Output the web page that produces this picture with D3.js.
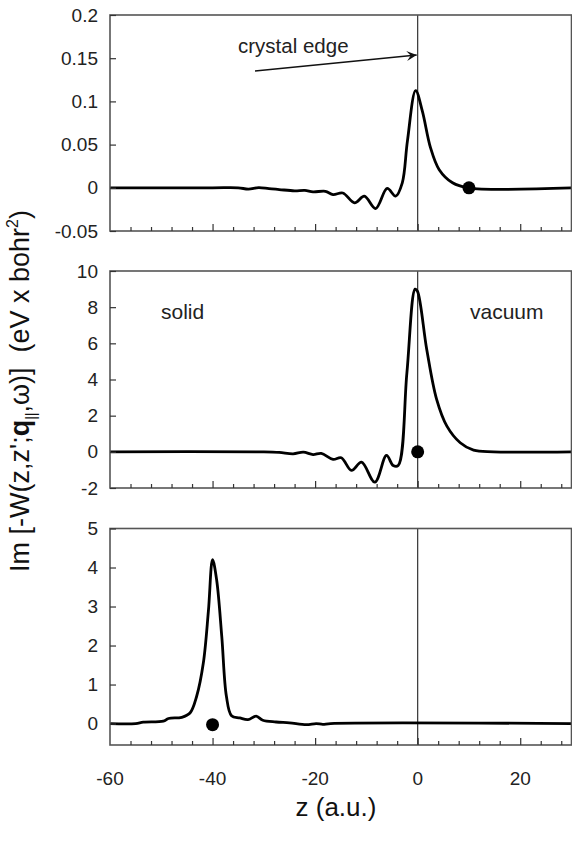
<!DOCTYPE html>
<html>
<head>
<meta charset="utf-8">
<script src="https://cdn.jsdelivr.net/npm/d3@7"></script>
<style>
  html, body { margin: 0; padding: 0; background: #fff; }
  svg { display: block; font-family: "Liberation Sans", Arial, Helvetica, sans-serif; }
</style>
</head>
<body>
<svg id="chart" width="572" height="846"></svg>
<script>
// ---------------- data ----------------
const xDomain = [-60, 30];
const xMajorTicks = [-60, -40, -20, 0, 20];
const xTickLabels = ["-60", "-40", "-20", "0", "20"];

// panel 1 (top)
const topZ   = [-60, -40, -35, -33, -31, -29, -27, -24, -22, -20.4, -18, -16.5, -14.6, -12.3, -10.4, -8.2, -5.95, -4.3, -3.0, -2.0, -0.4, 0.9, 2.5, 4.2, 6.8, 9.8, 30];
const topVal = [0, 0, 0, -0.0015, 0.0003, -0.001, -0.002, -0.0035, -0.003, -0.0047, -0.004, -0.0078, -0.006, -0.0174, -0.0097, -0.024, -0.0008, -0.0097, 0.0058, 0.054, 0.1124, 0.089, 0.0465, 0.021, 0.0058, 0, 0];
const topYDomain = [-0.05, 0.2];
const topYTicks = [-0.05, 0, 0.05, 0.1, 0.15, 0.2];
const topYLabels = ["-0.05", "0", "0.05", "0.1", "0.15", "0.2"];
const topDotZ = 10, topDotVal = 0;

// panel 2 (middle)
const midZ   = [-60, -30, -27, -24.3, -22.3, -20.4, -18.8, -16.5, -14.9, -12.9, -10.96, -8.35, -6.08, -4.78, -3.8, -2.1, -0.5, -0.04, 1.77, 3.7, 5.7, 8.3, 10.9, 14.8, 30];
const midVal = [0, 0, -0.03, -0.11, -0.02, -0.15, -0.09, -0.42, -0.33, -1.03, -0.57, -1.68, -0.2, -0.76, -0.76, 4.37, 9.0, 8.88, 5.66, 2.9, 1.42, 0.5, 0.09, 0, 0];
const midYDomain = [-2, 10];
const midYTicks = [-2, 0, 2, 4, 6, 8, 10];
const midYLabels = ["-2", "0", "2", "4", "6", "8", "10"];
const midDotZ = 0, midDotVal = 0;

// panel 3 (bottom)
const botZ   = [-60, -55, -53.5, -49.6, -48.6, -46.0, -44.4, -43.1, -41.8, -40.8, -40.0, -39.2, -38.2, -37.3, -36.3, -34.7, -33.1, -31.5, -30.2, -27.6, -25, -21.7, -19.8, -18.5, -17, 30];
const botVal = [0, 0, 0.034, 0.06, 0.13, 0.16, 0.27, 0.70, 1.55, 2.9, 4.2, 3.68, 2.23, 0.7, 0.2, 0.145, 0.10, 0.19, 0.085, 0.04, 0.017, -0.03, 0, -0.02, 0, 0];
const botYDomain = [-0.55, 5];
const botYTicks = [0, 1, 2, 3, 4, 5];
const botYLabels = ["0", "1", "2", "3", "4", "5"];
const botDotZ = -40, botDotVal = -0.03;

// ---------------- layout ----------------
const svg = d3.select("#chart");
const left = 110, right = 571.5;
const x = d3.scaleLinear().domain(xDomain).range([left, right]);

const panels = [
  { z: topZ, v: topVal, yd: topYDomain, yt: topYTicks, yl: topYLabels, top: 15, bottom: 231, dz: topDotZ, dv: topDotVal },
  { z: midZ, v: midVal, yd: midYDomain, yt: midYTicks, yl: midYLabels, top: 271, bottom: 488, dz: midDotZ, dv: midDotVal },
  { z: botZ, v: botVal, yd: botYDomain, yt: botYTicks, yl: botYLabels, top: 528.5, bottom: 745, dz: botDotZ, dv: botDotVal }
];

const minorTicks = d3.range(-56, 30, 4).filter(t => !xMajorTicks.includes(t));

panels.forEach((p, i) => {
  const y = d3.scaleLinear().domain(p.yd).range([p.bottom, p.top]);
  const g = svg.append("g");

  // x=0 vertical line
  g.append("line")
    .attr("x1", x(0)).attr("x2", x(0))
    .attr("y1", p.top).attr("y2", p.bottom)
    .attr("stroke", "#333").attr("stroke-width", 1.2);

  // curve
  const data = p.z.map((z, k) => [z, p.v[k]]);
  g.append("path")
    .datum(data)
    .attr("fill", "none")
    .attr("stroke", "#000")
    .attr("stroke-width", 2.8)
    .attr("stroke-linejoin", "round")
    .attr("d", d3.line().x(d => x(d[0])).y(d => y(d[1])).curve(d3.curveCatmullRom.alpha(0.5)));

  // dot
  g.append("circle")
    .attr("cx", x(p.dz)).attr("cy", y(p.dv)).attr("r", 6.5)
    .attr("fill", "#000");

  // frame
  g.append("rect")
    .attr("x", left).attr("y", p.top)
    .attr("width", right - left).attr("height", p.bottom - p.top)
    .attr("fill", "none").attr("stroke", "#555").attr("stroke-width", 1.6);

  // y axis
  const ya = g.append("g").attr("transform", `translate(${left},0)`)
    .call(d3.axisLeft(y).tickValues(p.yt).tickSize(-6).tickPadding(12)
      .tickFormat((d, k) => p.yl[k]));
  ya.select(".domain").remove();
  ya.selectAll("text").attr("font-size", 19).attr("fill", "#222")
    .attr("font-family", "'Liberation Sans', Arial, sans-serif");
  ya.selectAll("line").attr("stroke", "#333").attr("stroke-width", 1.2);

  // x axis ticks (inward)
  const xaMinor = g.append("g").attr("transform", `translate(0,${p.bottom})`)
    .call(d3.axisBottom(x).tickValues(minorTicks).tickSize(-4).tickFormat(""));
  xaMinor.select(".domain").remove();
  xaMinor.selectAll("line").attr("stroke", "#333").attr("stroke-width", 1.2);
  const xaMajor = g.append("g").attr("transform", `translate(0,${p.bottom})`)
    .call(d3.axisBottom(x).tickValues(xMajorTicks.filter(t => t !== -60)).tickSize(-7).tickFormat(""));
  xaMajor.select(".domain").remove();
  xaMajor.selectAll("line").attr("stroke", "#333").attr("stroke-width", 1.2);

  if (i === 2) {
    g.selectAll(".xlab").data(xMajorTicks).enter().append("text")
      .attr("x", d => x(d)).attr("y", 785)
      .attr("text-anchor", "middle")
      .attr("font-size", 19).attr("fill", "#222")
      .text((d, k) => xTickLabels[k]);
  }
});

// annotations
svg.append("text").attr("x", 238).attr("y", 53).attr("font-size", 20.5).attr("fill", "#222").text("crystal edge");
svg.append("defs").append("marker")
  .attr("id", "arr").attr("viewBox", "0 0 10 10").attr("refX", 10).attr("refY", 5)
  .attr("markerWidth", 10).attr("markerHeight", 10).attr("markerUnits", "userSpaceOnUse")
  .attr("orient", "auto")
  .append("path").attr("d", "M0,0 L10,5 L0,10 L4,5 Z").attr("fill", "#111");
svg.append("line")
  .attr("x1", 255).attr("y1", 71).attr("x2", x(0) - 1).attr("y2", 55)
  .attr("stroke", "#111").attr("stroke-width", 1.5).attr("marker-end", "url(#arr)");

svg.append("text").attr("x", 161).attr("y", 319).attr("font-size", 21).attr("fill", "#222").text("solid");
svg.append("text").attr("x", 470).attr("y", 319).attr("font-size", 21).attr("fill", "#222").text("vacuum");

// axis titles
svg.append("text").attr("x", 336).attr("y", 816).attr("text-anchor", "middle")
  .attr("font-size", 26).attr("fill", "#111").text("z (a.u.)");

const yt = svg.append("text")
  .attr("transform", "translate(29,391) rotate(-90)")
  .attr("text-anchor", "middle").attr("font-size", 27).attr("fill", "#111")
  .attr("xml:space", "preserve");
yt.append("tspan").text("Im [-W(z,z';");
yt.append("tspan").attr("font-weight", "bold").text("q");
yt.append("tspan").attr("font-size", 14).attr("dy", 7).text("||");
yt.append("tspan").attr("dy", -7).text(",ω)]  (eV x bohr");
yt.append("tspan").attr("font-size", 16).attr("dy", -11).text("2");
yt.append("tspan").attr("dy", 11).text(")");
</script>
</body>
</html>
